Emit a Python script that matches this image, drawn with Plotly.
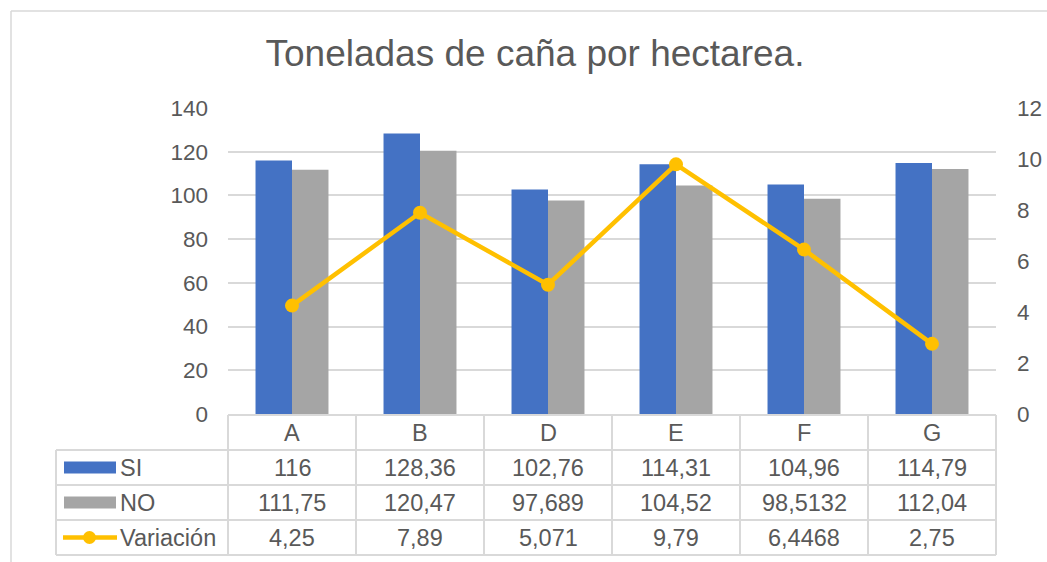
import plotly.graph_objects as go

# ---- data ----
categories = ["A", "B", "D", "E", "F", "G"]
si_values = [116, 128.36, 102.76, 114.31, 104.96, 114.79]
no_values = [111.75, 120.47, 97.689, 104.52, 98.5132, 112.04]
variacion_values = [4.25, 7.89, 5.071, 9.79, 6.4468, 2.75]
series_names = ["SI", "NO", "Variación"]
title_text = "Toneladas de caña por hectarea."
y_ticks = [0, 20, 40, 60, 80, 100, 120, 140]
y2_ticks = [0, 2, 4, 6, 8, 10, 12]

# ---- style ----
COL_SI = "#4472C4"
COL_NO = "#A5A5A5"
COL_VAR = "#FFC000"
TXT = "#595959"
GRID = "#D9D9D9"
FONT = "Liberation Sans, Arial, sans-serif"

W, H = 1047, 562
def px(x):
    return x / W
def py(y):
    return 1 - y / H

X0, X1 = 228, 996
Y_TOP, Y_BOT = 108, 414
COL_W = (X1 - X0) / len(categories)
LEG_X0 = 56
ROW_TOP = 415
ROW_EDGES = [415, 450, 485, 520, 555]

def fmt(v):
    return f"{v:g}".replace(".", ",")

fig = go.Figure()
fig.add_trace(go.Bar(x=categories, y=si_values, name=series_names[0],
                     marker=dict(color=COL_SI, line=dict(width=0)), yaxis="y"))
fig.add_trace(go.Bar(x=categories, y=no_values, name=series_names[1],
                     marker=dict(color=COL_NO, line=dict(width=0)), yaxis="y"))
fig.add_trace(go.Scatter(x=categories, y=variacion_values, name=series_names[2],
                         mode="lines+markers", yaxis="y2",
                         line=dict(color=COL_VAR, width=4.5),
                         marker=dict(color=COL_VAR, size=14)))

shapes = []
annotations = []

# chart border (left & top visible)
shapes.append(dict(type="line", xref="paper", yref="paper", x0=px(11), x1=px(11),
                   y0=py(11), y1=py(600), line=dict(color=GRID, width=1.5)))
shapes.append(dict(type="line", xref="paper", yref="paper", x0=px(11), x1=px(1100),
                   y0=py(11), y1=py(11), line=dict(color=GRID, width=1.5)))

# data table grid
tl = dict(color=GRID, width=2)
shapes.append(dict(type="line", xref="paper", yref="paper", x0=px(X0), x1=px(X1),
                   y0=py(ROW_TOP), y1=py(ROW_TOP), line=tl))
for ye in ROW_EDGES[1:]:
    shapes.append(dict(type="line", xref="paper", yref="paper", x0=px(LEG_X0), x1=px(X1),
                       y0=py(ye), y1=py(ye), line=tl))
for i in range(len(categories) + 1):
    xv = X0 + i * COL_W
    shapes.append(dict(type="line", xref="paper", yref="paper", x0=px(xv), x1=px(xv),
                       y0=py(ROW_EDGES[0]), y1=py(ROW_EDGES[-1]), line=tl))
shapes.append(dict(type="line", xref="paper", yref="paper", x0=px(LEG_X0), x1=px(LEG_X0),
                   y0=py(ROW_EDGES[1]), y1=py(ROW_EDGES[-1]), line=tl))

txtfont = dict(family=FONT, size=23.5, color=TXT)
tickfont = dict(family=FONT, size=22.5, color=TXT)

# category labels
cy = (ROW_EDGES[0] + ROW_EDGES[1]) / 2
for c in categories:
    annotations.append(dict(x=c, y=py(cy), xref="x", yref="paper", text=c,
                            xanchor="center", yanchor="middle",
                            showarrow=False, font=txtfont))

# value rows
rows = [si_values, no_values, variacion_values]
for r, vals in enumerate(rows):
    yc = (ROW_EDGES[r + 1] + ROW_EDGES[r + 2]) / 2
    for c, v in zip(categories, vals):
        annotations.append(dict(x=c, y=py(yc), xref="x", yref="paper", text=fmt(v),
                                xanchor="center", yanchor="middle",
                                showarrow=False, font=txtfont))
    annotations.append(dict(x=px(118), y=py(yc), xref="paper", yref="paper",
                            text=series_names[r], xanchor="left", yanchor="middle",
                            showarrow=False, font=txtfont))

# legend keys
for r, col in enumerate([COL_SI, COL_NO]):
    yc = (ROW_EDGES[r + 1] + ROW_EDGES[r + 2]) / 2
    shapes.append(dict(type="rect", xref="paper", yref="paper", x0=px(64), x1=px(116),
                       y0=py(yc - 6), y1=py(yc + 6), fillcolor=col, line=dict(width=0)))
yc = (ROW_EDGES[3] + ROW_EDGES[4]) / 2
shapes.append(dict(type="line", xref="paper", yref="paper", x0=px(63), x1=px(117),
                   y0=py(yc), y1=py(yc), line=dict(color=COL_VAR, width=4.5)))
shapes.append(dict(type="circle", xref="paper", yref="paper", x0=px(83), x1=px(96),
                   y0=py(yc - 6.5), y1=py(yc + 6.5), fillcolor=COL_VAR, line=dict(width=0)))

fig.update_layout(
    width=W, height=H, autosize=False,
    margin=dict(l=0, r=0, t=0, b=0, autoexpand=False),
    paper_bgcolor="white", plot_bgcolor="white",
    showlegend=False,
    barmode="group", bargap=0.43, bargroupgap=0,
    title=dict(text=title_text, x=px(535), y=py(53), xanchor="center", yanchor="middle",
               font=dict(family=FONT, size=37, color=TXT)),
    xaxis=dict(domain=[px(X0), px(X1)], showticklabels=False, showgrid=False,
               zeroline=False, showline=False, type="category", automargin=False),
    yaxis=dict(domain=[py(Y_BOT), py(Y_TOP)], range=[0, 140], tickvals=y_ticks,
               showgrid=True, gridcolor=GRID, gridwidth=1.5, zeroline=False,
               showline=False, ticks="", ticklabelstandoff=19, automargin=False,
               tickfont=tickfont),
    yaxis2=dict(domain=[py(Y_BOT), py(Y_TOP)], range=[0, 12], tickvals=y2_ticks,
                overlaying="y", side="right", anchor="x", showgrid=False, zeroline=False,
                showline=False, ticks="", ticklabelstandoff=20, automargin=False,
                tickfont=tickfont),
    shapes=shapes, annotations=annotations,
)

fig.write_html("out.html", config={"displayModeBar": False},
               post_script="document.body.style.margin='0';document.body.style.overflow='hidden';")
